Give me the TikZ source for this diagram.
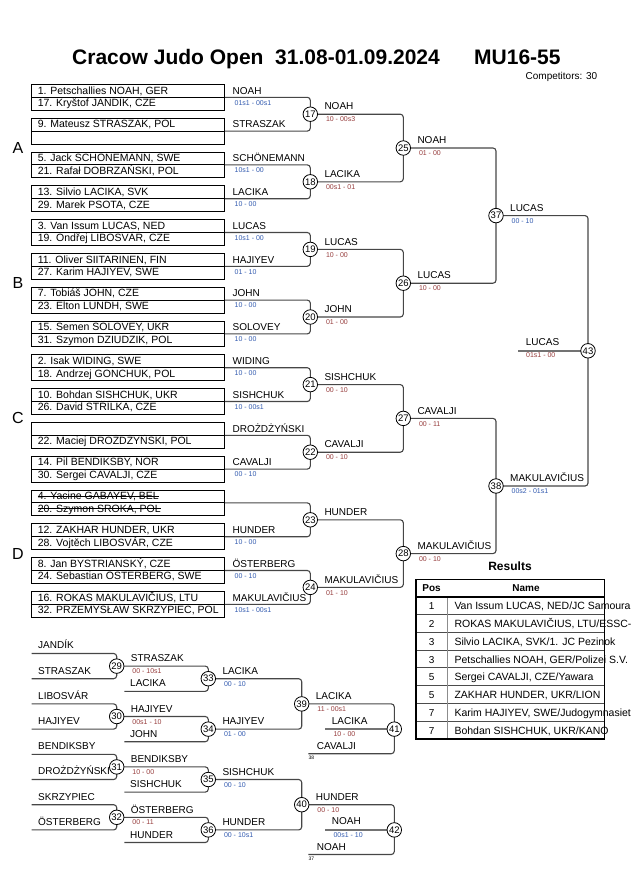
\documentclass[tikz,border=0pt]{standalone}
\usepackage{fontspec}
\setmainfont{Liberation Sans}
\usetikzlibrary{positioning,backgrounds}
\definecolor{sblue}{RGB}{50,90,175}
\definecolor{sred}{RGB}{150,60,60}
\definecolor{conngray}{RGB}{70,70,70}

\begin{document}
\begin{tikzpicture}[x=1pt,y=-1pt,
    every node/.style={inner sep=0pt},
    entry/.style={anchor=base west, font=\fontsize{10.5}{12}\selectfont},
    pairbox/.style={draw, line width=0.9pt, minimum width=192.6pt, minimum height=25.8pt},
    winner/.style={anchor=base west, font=\fontsize{10}{12}\selectfont},
    score/.style={anchor=base west, font=\fontsize{7}{8}\selectfont},
    refno/.style={anchor=base west, font=\fontsize{5}{6}\selectfont},
    matchno/.style={circle, draw, line width=0.8pt, fill=white, minimum size=14.5pt,
                    font=\fontsize{9.5}{10}\selectfont},
    conn/.style={draw=conngray, line width=1.1pt, rounded corners=3pt},
    medal/.style={draw=black!55, line width=2pt},
    strike/.style={line width=0.7pt},
    group/.style={font=\fontsize{16}{18}\selectfont}
  ]
  \useasboundingbox (0,0) rectangle (630,891);

  % header
  \node[anchor=base west, font=\fontsize{21}{25}\selectfont\bfseries] (title) at (72,65)
    {Cracow Judo Open\ \ 31.08-01.09.2024};
  \node[anchor=base west, font=\fontsize{21}{25}\selectfont\bfseries] (cat) at (474,65) {MU16-55};
  \node[anchor=base west, font=\fontsize{10}{12}\selectfont] (comp) at (525.5,79) {Competitors: 30};

  \foreach \g/\lab in {0/A,1/B,2/C,3/D}
    \node[group] (grp\lab) at (18,{148+135.2*\g}) {\lab};

  % first round
  \foreach \i/\ta/\tb/\w/\s in {
      1/{1. Petschallies NOAH, GER}/{17. Kryštof JANDÍK, CZE}/NOAH/{01s1 - 00s1},
      2/{9. Mateusz STRASZAK, POL}/{}/STRASZAK/{},
      3/{5. Jack SCHÖNEMANN, SWE}/{21. Rafał DOBRZAŃSKI, POL}/SCHÖNEMANN/{10s1 - 00},
      4/{13. Silvio LACIKA, SVK}/{29. Marek PSOTA, CZE}/LACIKA/{10 - 00},
      5/{3. Van Issum LUCAS, NED}/{19. Ondřej LIBOSVÁR, CZE}/LUCAS/{10s1 - 00},
      6/{11. Oliver SIITARINEN, FIN}/{27. Karim HAJIYEV, SWE}/HAJIYEV/{01 - 10},
      7/{7. Tobiáš JOHN, CZE}/{23. Elton LUNDH, SWE}/JOHN/{10 - 00},
      8/{15. Semen SOLOVEY, UKR}/{31. Szymon DZIUDZIK, POL}/SOLOVEY/{10 - 00},
      9/{2. Isak WIDING, SWE}/{18. Andrzej GONCHUK, POL}/WIDING/{10 - 00},
      10/{10. Bohdan SISHCHUK, UKR}/{26. David STŘÍLKA, CZE}/SISHCHUK/{10 - 00s1},
      11/{}/{22. Maciej DROŻDŻYŃSKI, POL}/DROŻDŻYŃSKI/{},
      12/{14. Pil BENDIKSBY, NOR}/{30. Sergei CAVALJI, CZE}/CAVALJI/{00 - 10},
      13/{4. Yacine GABAYEV, BEL}/{20. Szymon SROKA, POL}/{}/{},
      14/{12. ZAKHAR HUNDER, UKR}/{28. Vojtěch LIBOSVÁR, CZE}/HUNDER/{10 - 00},
      15/{8. Jan BYSTRIANSKÝ, CZE}/{24. Sebastian ÖSTERBERG, SWE}/ÖSTERBERG/{00 - 10},
      16/{16. ROKAS MAKULAVIČIUS, LTU}/{32. PRZEMYSŁAW SKRZYPIEC, POL}/MAKULAVIČIUS/{10s1 - 00s1}}
  {
    \node[pairbox] (bx\i) at (128,{97.3+33.8*(\i-1)}) {};
    \draw[line width=0.9pt] (bx\i.west) -- (bx\i.east);
    \node[entry, xshift=6.3pt, yshift=3.3pt] (ea\i) at (bx\i.west) {\ta};
    \node[entry, xshift=6.3pt, yshift=-9.4pt] (eb\i) at (bx\i.west) {\tb};
    \node[winner, xshift=7.7pt, yshift=3.3pt] (wb\i) at (bx\i.east) {\w};
    \node[score, text=sblue, xshift=9.7pt, yshift=-7.7pt] (sb\i) at (bx\i.east) {\s};
  }
  % withdrawn pair
  \draw[strike] ([yshift=3.5pt]ea13.base west) -- ([yshift=3.5pt]ea13.base east);
  \draw[strike] ([yshift=3.5pt]eb13.base west) -- ([yshift=3.5pt]eb13.base east);

  % match circles
  \foreach \k in {0,...,7} {
    \pgfmathtruncatemacro\n{17+\k}
    \node[matchno] (m\n) at (310.3,{114.2+67.6*\k}) {\n};
  }
  \foreach \k in {0,...,3} {
    \pgfmathtruncatemacro\n{25+\k}
    \node[matchno] (m\n) at (403.3,{148+135.2*\k}) {\n};
  }
  \node[matchno] (m37) at (496,215.6) {37};
  \node[matchno] (m38) at (496,486) {38};
  \node[matchno] (m43) at (588,350.8) {43};

  % repechage
  \foreach \j/\w in {0/JANDÍK,1/STRASZAK,2/LIBOSVÁR,3/HAJIYEV,4/BENDIKSBY,5/DROŻDŻYŃSKI,6/SKRZYPIEC,7/ÖSTERBERG} {
    \coordinate (rl\j) at (31.7,{653.5+25.2*\j});
    \node[winner, xshift=6.3pt, yshift=4.6pt] (rn\j) at (rl\j) {\w};
  }
  \foreach \k/\w in {0/LACIKA,1/JOHN,2/SISHCHUK,3/HUNDER} {
    \pgfmathtruncatemacro\n{29+\k}
    \pgfmathtruncatemacro\q{33+\k}
    \node[matchno] (m\n) at (116.7,{666.1+50.4*\k}) {\n};
    \node[matchno] (m\q) at (208.3,{678.7+50.4*\k}) {\q};
    \coordinate (rb\q) at (124.3,{691.3+50.4*\k});
    \node[winner, xshift=5.7pt, yshift=4.4pt] (rbn\q) at (rb\q) {\w};
  }
  \node[matchno] (m39) at (301.7,703.9) {39};
  \node[matchno] (m40) at (301.7,804.7) {40};
  \node[matchno] (m41) at (394.3,729.1) {41};
  \node[matchno] (m42) at (394.3,829.9) {42};
  \coordinate (rb41) at (308.3,753.7);
  \coordinate (rb42) at (308.3,854.5);
  \coordinate (rz41) at (325,729.1);
  \coordinate (rz42) at (325,829.9);
  \coordinate (fin) at (518,350.8);

  % winners after the circles
  \foreach \n/\w/\s/\c in {17/NOAH/{10 - 00s3}/sred, 18/LACIKA/{00s1 - 01}/sred,
      19/LUCAS/{10 - 00}/sred, 20/JOHN/{01 - 00}/sred, 21/SISHCHUK/{00 - 10}/sred,
      22/CAVALJI/{00 - 10}/sred, 23/HUNDER/{}/sred, 24/MAKULAVIČIUS/{01 - 10}/sred,
      25/NOAH/{01 - 00}/sred, 26/LUCAS/{10 - 00}/sred, 27/CAVALJI/{00 - 11}/sred,
      28/MAKULAVIČIUS/{00 - 10}/sred, 37/LUCAS/{00 - 10}/sblue, 38/MAKULAVIČIUS/{00s2 - 01s1}/sblue,
      29/STRASZAK/{00 - 10s1}/sred, 30/HAJIYEV/{00s1 - 10}/sred, 31/BENDIKSBY/{10 - 00}/sred,
      32/ÖSTERBERG/{00 - 11}/sred, 33/LACIKA/{00 - 10}/sblue, 34/HAJIYEV/{01 - 00}/sblue,
      35/SISHCHUK/{00 - 10}/sblue, 36/HUNDER/{00 - 10s1}/sblue, 39/LACIKA/{11 - 00s1}/sred,
      40/HUNDER/{00 - 10}/sred}
  {
    \node[winner, xshift=14pt, yshift=4.3pt] (wm\n) at (m\n.center) {\w};
    \node[score, text=\c, xshift=15.5pt, yshift=-7.6pt] (sm\n) at (m\n.center) {\s};
  }
  \node[winner, xshift=7.7pt, yshift=5pt] (wfin) at (fin) {LUCAS};
  \node[score, text=sred, xshift=8pt, yshift=-6.8pt] (sfin) at (fin) {01s1 - 00};
  \node[winner, xshift=6.7pt, yshift=5pt] (wz41) at (rz41) {LACIKA};
  \node[score, text=sred, xshift=8.3pt, yshift=-7.6pt] (sz41) at (rz41) {10 - 00};
  \node[winner, xshift=6.7pt, yshift=5pt] (wz42) at (rz42) {NOAH};
  \node[score, text=sblue, xshift=8.3pt, yshift=-7.6pt] (sz42) at (rz42) {00s1 - 10};
  \node[winner, xshift=8.4pt, yshift=4.4pt] (wb41) at (rb41) {CAVALJI};
  \node[refno, xshift=0pt, yshift=-5.8pt] (fb41) at (rb41) {38};
  \node[winner, xshift=8.4pt, yshift=4.4pt] (wb42) at (rb42) {NOAH};
  \node[refno, xshift=0pt, yshift=-5.8pt] (fb42) at (rb42) {37};

  % connectors
  \begin{scope}[on background layer]
    \foreach \a/\b/\m in {1/2/17,3/4/18,5/6/19,7/8/20,9/10/21,11/12/22,13/14/23,15/16/24}
      \draw[conn] (bx\a.east) -| (m\m.center) |- (bx\b.east);
    \foreach \a/\b/\m in {17/18/25,19/20/26,21/22/27,23/24/28,25/26/37,27/28/38,37/38/43,
                          33/34/39,35/36/40}
      \draw[conn] (m\a.center) -| (m\m.center) |- (m\b.center);
    \foreach \a/\b/\m in {0/1/29,2/3/30,4/5/31,6/7/32}
      \draw[conn] (rl\a) -| (m\m.center) |- (rl\b);
    \foreach \a/\m in {29/33,30/34,31/35,32/36}
      \draw[conn] (m\a.center) -| (m\m.center) |- (rb\m);
    \draw[conn] (m39.center) -| (m41.center) |- (rb41);
    \draw[conn] (m40.center) -| (m42.center) |- (rb42);
    \draw[medal] (rz41) -- (m41.center);
    \draw[medal] (rz42) -- (m42.center);
    \draw[medal] (fin) -- (m43.center);
  \end{scope}

  % results
  \node[anchor=base, font=\fontsize{12}{14}\selectfont\bfseries] (restitle) at (510,570) {Results};
  \node[anchor=base, font=\fontsize{10}{12}\selectfont\bfseries] (hpos) at (431.5,591.7) {Pos};
  \node[anchor=base, font=\fontsize{10}{12}\selectfont\bfseries] (hname) at (526,591.7) {Name};
  \begin{scope}
    \clip (416,579) rectangle (630,740);
    \foreach \r/\p/\t in {1/1/{Van Issum LUCAS, NED/JC Samourai},
        2/2/{ROKAS MAKULAVIČIUS, LTU/ESSC-I}, 3/3/{Silvio LACIKA, SVK/1. JC Pezinok},
        4/3/{Petschallies NOAH, GER/Polizei S.V.}, 5/5/{Sergei CAVALJI, CZE/Yawara},
        6/5/{ZAKHAR HUNDER, UKR/LION}, 7/7/{Karim HAJIYEV, SWE/Judogymnasiet},
        8/7/{Bohdan SISHCHUK, UKR/KANO}}
    {
      \node[anchor=base, font=\fontsize{10}{12}\selectfont] (pos\r) at (431.7,{596.7+17.8*\r-4.8}) {\p};
      \node[entry] (res\r) at (454.3,{596.7+17.8*\r-4.8}) {\t};
    }
  \end{scope}
  \foreach \r in {1,...,7}
    \draw[line width=1pt, black!70] (415.7,{596.7+17.8*\r}) -- (604.3,{596.7+17.8*\r});
  \draw[line width=1.2pt, black!45] (447.3,596.7) -- (447.3,739);
  \draw[line width=1.6pt] (415.7,596.7) -- (604.3,596.7);
  \draw[line width=1.6pt] (415.7,579.3) rectangle (604.3,739);
\end{tikzpicture}
\end{document}
